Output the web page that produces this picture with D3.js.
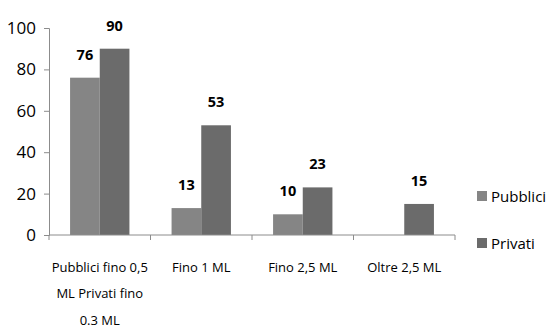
<!DOCTYPE html>
<html><head><meta charset="utf-8">
<script src="https://cdn.jsdelivr.net/npm/d3@7/dist/d3.min.js"></script>
<style>
body{margin:0;background:#fff;}
svg text{font-family:"Open Sans","Liberation Sans",sans-serif;}
</style></head>
<body><svg id="c" width="547" height="327"></svg>
<script>
const categories = [["Pubblici fino 0,5","ML Privati fino","0.3 ML"],["Fino 1 ML"],["Fino 2,5 ML"],["Oltre 2,5 ML"]];
const seriesNames = ["Pubblici","Privati"];
const pubblici = [76, 13, 10, null];
const privati = [90, 53, 23, 15];
const yTicks = [0,20,40,60,80,100];
const colors = ["#858585","#6b6b6b"];

const svg = d3.select("#c");
const x0 = d3.scaleBand().domain(d3.range(categories.length)).range([49,455]).paddingInner(0).paddingOuter(0);
const y = d3.scaleLinear().domain([0,100]).range([235,28]);
const x1 = d3.scaleBand().domain([0,1]).range([0,x0.bandwidth()]).paddingOuter(0.71).paddingInner(0);

const axisColor = "#8c8c8c";
const yAxis = svg.append("g").attr("transform","translate(49,0)")
  .call(d3.axisLeft(y).tickValues(yTicks).tickSize(5).tickPadding(8));
yAxis.select(".domain").attr("stroke",axisColor);
yAxis.selectAll(".tick line").attr("stroke",axisColor);
yAxis.selectAll(".tick text").attr("font-size","17px").attr("fill","#000")
  .attr("font-family","'Open Sans',sans-serif").attr("textLength",null);

const data = [pubblici, privati];
data.forEach((vals,s)=>{
  const items = vals.map((v,i)=>({v,i})).filter(d=>d.v!=null);
  svg.append("g").selectAll("rect").data(items)
    .join("rect")
    .attr("x",d=>x0(d.i)+x1(s))
    .attr("width",x1.bandwidth())
    .attr("y",d=>y(d.v))
    .attr("height",d=>y(0)-y(d.v))
    .attr("fill",colors[s]);
  svg.append("g").selectAll("text").data(items)
    .join("text")
    .attr("x",d=>x0(d.i)+x1(s)+x1.bandwidth()/2)
    .attr("y",d=>y(d.v)-18)
    .attr("text-anchor","middle")
    .attr("font-size","14.5px").attr("font-weight","bold")
    .text(d=>d.v);
});

const xg = svg.append("g").attr("transform","translate(0,235)");
xg.append("line").attr("x1",49).attr("x2",455).attr("stroke",axisColor);
const bounds = d3.range(categories.length+1).map(i=> i<categories.length ? x0(i) : x0(i-1)+x0.bandwidth());
xg.selectAll("line.t").data(bounds).join("line").attr("class","t")
  .attr("x1",d=>d).attr("x2",d=>d).attr("y1",0).attr("y2",5).attr("stroke",axisColor);
categories.forEach((lines,i)=>{
  const t = svg.append("text").attr("text-anchor","middle").attr("font-size","13px").attr("fill","#000");
  lines.forEach((ln,j)=>{
    t.append("tspan").attr("x",x0(i)+x0.bandwidth()/2).attr("y",271.5+j*26.5).text(ln);
  });
});

const lg = svg.append("g");
seriesNames.forEach((n,i)=>{
  const yy = 191 + i*47;
  lg.append("rect").attr("x",477).attr("y",yy).attr("width",10).attr("height",10).attr("fill",colors[i]);
  lg.append("text").attr("x",491).attr("y",yy+10.5).attr("font-size","15px").attr("fill","#000").text(n);
});
</script></body></html>
